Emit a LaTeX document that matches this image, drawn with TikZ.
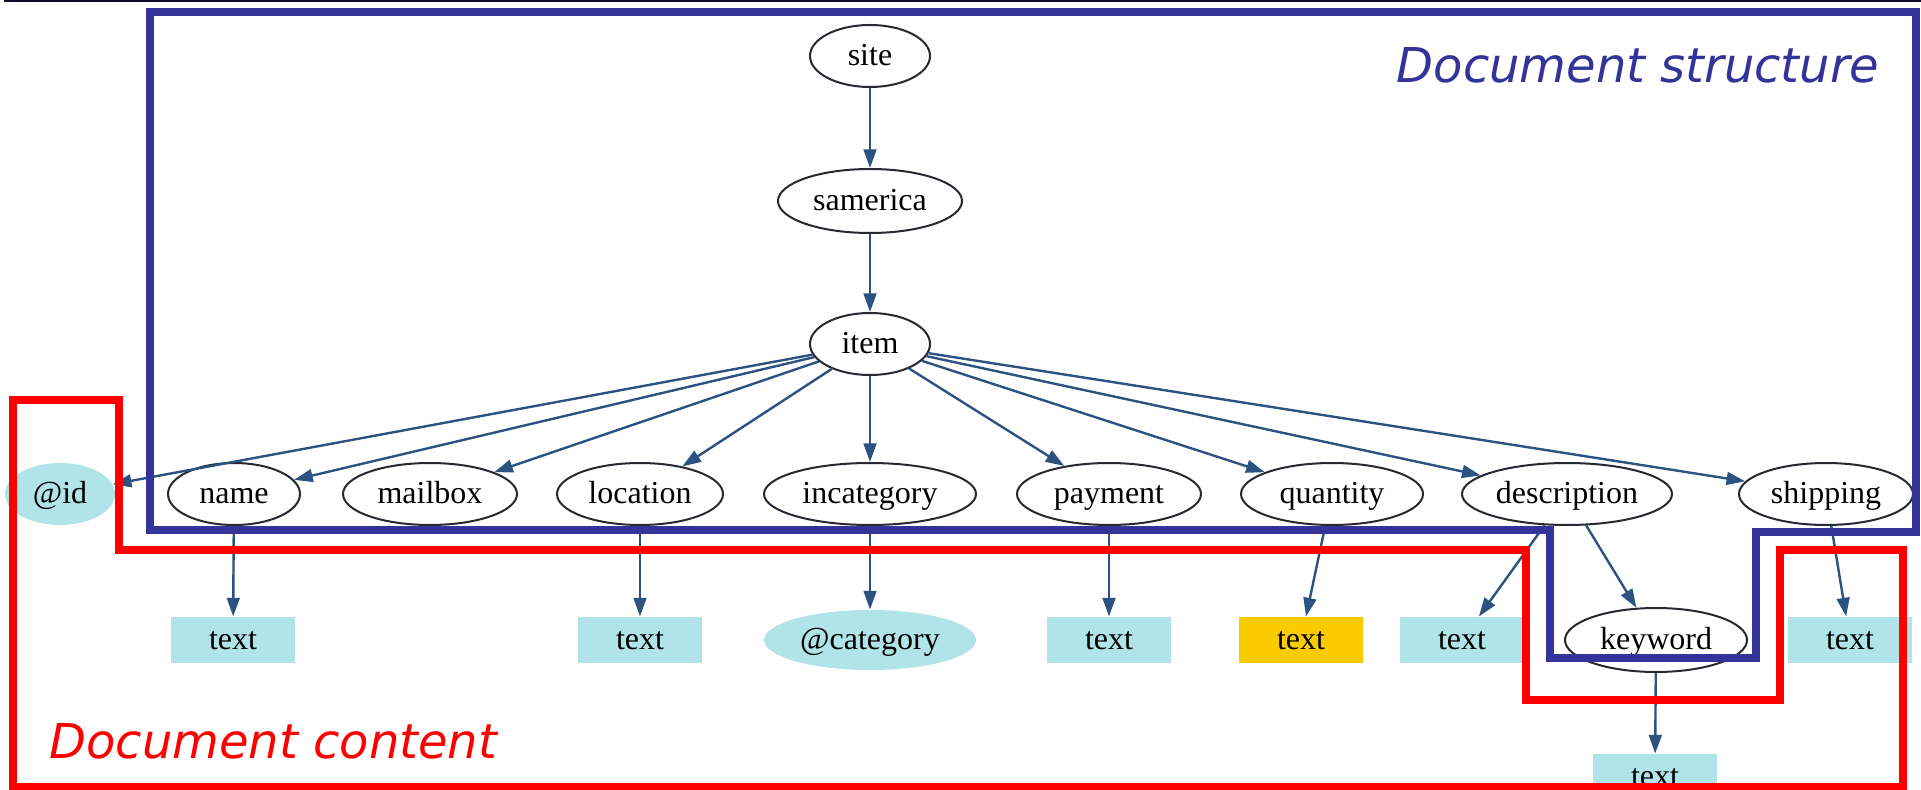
\documentclass[tikz,border=0pt]{standalone}
\usepackage{fontspec}
\setmainfont{Liberation Serif}
\newfontfamily\captionfont{DejaVu Sans}
\usetikzlibrary{shapes.geometric,arrows.meta}

\definecolor{structblue}{RGB}{51,51,153}
\definecolor{contentred}{RGB}{255,0,0}
\definecolor{leafcyan}{RGB}{176,228,232}
\definecolor{leafgold}{RGB}{250,204,0}
\definecolor{edgeblue}{RGB}{44,82,130}
\definecolor{outline}{RGB}{40,40,50}
\definecolor{topline}{RGB}{20,8,40}

\begin{document}
\begin{tikzpicture}[
  x=0.375pt, y=-0.375pt,
  font=\fontsize{12}{14}\selectfont,
  every node/.style={text height=9.4pt, text depth=2.2pt},
  elem/.style 2 args={ellipse, draw=outline, line width=0.75pt, inner sep=0pt,
    minimum width=#1*0.75pt, minimum height=#2*0.75pt},
  attr/.style 2 args={ellipse, fill=leafcyan, inner sep=0pt,
    minimum width=#1*0.75pt, minimum height=#2*0.75pt},
  leaf/.style={rectangle, fill=leafcyan, inner sep=0pt,
    minimum width=46.5pt, minimum height=17.25pt},
  goldleaf/.style={leaf, fill=leafgold},
  link/.style={draw=edgeblue, line width=0.9pt,
    -{Triangle[length=7pt, width=4.8pt]}},
  region/.style={line width=2.7pt, line join=miter},
  caption/.style={font=\captionfont\itshape\fontsize{18}{20}\selectfont,
    text height=, text depth=}
]
\useasboundingbox (0,0) rectangle (1921,790);

% thin rule along the top edge
\draw[topline, line width=0.8pt] (4,1) -- (1921,1);

% tree of elements
\node[elem={60}{31}] (site) at (870,56) {site};
\node[elem={92}{32}] (samerica) at (870,201) {samerica};
\node[elem={60}{31}] (item) at (870,344) {item};

\node[attr={55}{31}] (id) at (60,494) {@id};
\node[elem={66}{31}] (name) at (234,494) {name};
\node[elem={87}{31}] (mailbox) at (430,494) {mailbox};
\node[elem={83}{31}] (location) at (640,494) {location};
\node[elem={106}{31}] (incategory) at (870,494) {incategory};
\node[elem={92}{31}] (payment) at (1109,494) {payment};
\node[elem={91}{31}] (quantity) at (1332,494) {quantity};
\node[elem={105}{31}] (description) at (1567,494) {description};
\node[elem={87}{31}] (shipping) at (1826,494) {shipping};

\node[leaf] (nametext) at (233,640) {text};
\node[leaf] (loctext) at (640,640) {text};
\node[attr={106}{30}] (category) at (870,640) {@category};
\node[leaf] (paytext) at (1109,640) {text};
\node[goldleaf] (qtytext) at (1301,640) {text};
\node[leaf] (desctext) at (1462,640) {text};
\node[elem={91}{32}] (keyword) at (1656,640) {keyword};
\node[leaf] (shiptext) at (1850,640) {text};
\node[leaf] (kwtext) at (1655,777) {text};

% parent-child links
\draw[link] (site) -- (samerica);
\draw[link] (samerica) -- (item);
\foreach \child in {id,name,mailbox,location,incategory,payment,quantity,description,shipping}
  \draw[link] (item) -- (\child);
\draw[link] (name) -- (nametext);
\draw[link] (location) -- (loctext);
\draw[link] (incategory) -- (category);
\draw[link] (payment) -- (paytext);
\draw[link] (quantity) -- (qtytext);
\draw[link] (description) -- (desctext);
\draw[link] (description) -- (keyword);
\draw[link] (shipping) -- (shiptext);
\draw[link] (keyword) -- (kwtext);

% structure region
\draw[region, structblue]
  (150,12) -- (1916,12) -- (1916,532) -- (1756,532) -- (1756,658)
  -- (1550,658) -- (1550,530) -- (150,530) -- cycle;

% content region
\draw[region, contentred]
  (13,400) -- (119,400) -- (119,550) -- (1526,550) -- (1526,700)
  -- (1780,700) -- (1780,550) -- (1903,550) -- (1903,787) -- (13,787) -- cycle;

\node[caption, text=structblue, anchor=base east, inner sep=0pt] (structlabel) at (1880,83) {Document structure};
\node[caption, text=contentred, anchor=base west, inner sep=0pt] (contentlabel) at (49,758) {Document content};
\end{tikzpicture}
\end{document}
